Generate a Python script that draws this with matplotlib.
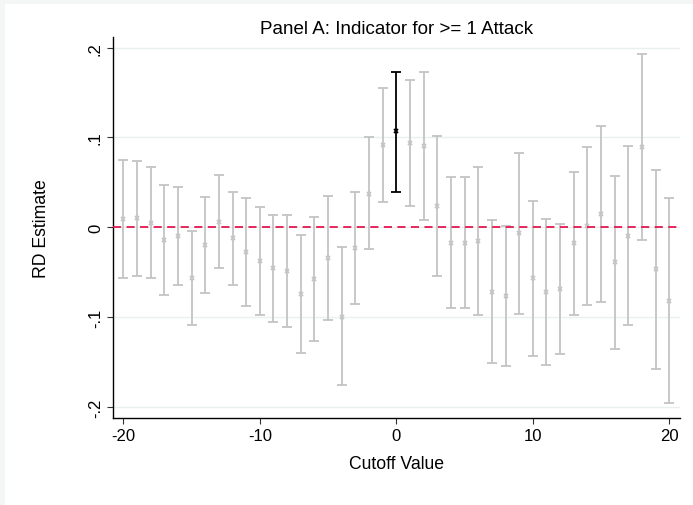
import matplotlib.pyplot as plt
from matplotlib.patches import Rectangle

plt.rcParams['font.family'] = ['Liberation Sans', 'DejaVu Sans']
plt.rcParams['axes.unicode_minus'] = False

cutoffs = list(range(-20, 21))
estimates = [0.0093, 0.0104, 0.0052, -0.0141, -0.0093, -0.0561, -0.0193, 0.0063, -0.0123, -0.0275,
             -0.0379, -0.0454, -0.0487, -0.0740, -0.0572, -0.0342, -0.0993, -0.0234, 0.0375, 0.0922,
             0.1067,
             0.0941, 0.0903, 0.0238, -0.0171, -0.0171, -0.0152, -0.0717, -0.0762, -0.0067, -0.0569,
             -0.0725, -0.0684, -0.0178, 0.0019, 0.0149, -0.0390, -0.0093, 0.0892, -0.0468, -0.0818]
ci_high = [0.0755, 0.0743, 0.0673, 0.0468, 0.0454, -0.0037, 0.0342, 0.0580, 0.0398, 0.0327,
           0.0223, 0.0141, 0.0141, -0.0082, 0.0115, 0.0353, -0.0223, 0.0390, 0.1004, 0.1554,
           0.1729,
           0.1643, 0.1729, 0.1019, 0.0558, 0.0565, 0.0669, 0.0078, 0.0019, 0.0833, 0.0297,
           0.0089, 0.0041, 0.0617, 0.0896, 0.1123, 0.0576, 0.0903, 0.1929, 0.0636, 0.0323]
ci_low = [-0.0565, -0.0543, -0.0561, -0.0751, -0.0639, -0.1086, -0.0729, -0.0454, -0.0643, -0.0877,
          -0.0981, -0.1048, -0.1112, -0.1401, -0.1264, -0.1030, -0.1758, -0.0855, -0.0245, 0.0286,
          0.0398,
          0.0242, 0.0078, -0.0543, -0.0900, -0.0900, -0.0974, -0.1513, -0.1543, -0.0967, -0.1435,
          -0.1535, -0.1413, -0.0974, -0.0862, -0.0829, -0.1357, -0.1089, -0.0145, -0.1576, -0.1955]

y_ticks = [-0.2, -0.1, 0, 0.1, 0.2]
y_tick_labels = ['-.2', '-.1', '0', '.1', '.2']
x_ticks = [-20, -10, 0, 10, 20]

fig = plt.figure(figsize=(6.93, 5.06), dpi=100)
fig.patch.set_facecolor('white')
# thin grey frame on the left and top edge, as in the exported Stata graph
fig.patches.append(Rectangle((0, 0), 4.5 / 693, 1, transform=fig.transFigure,
                             facecolor='#f4f5f5', edgecolor='none', zorder=-10))
fig.patches.append(Rectangle((0, 1 - 4.5 / 506), 1, 4.5 / 506, transform=fig.transFigure,
                             facecolor='#f4f5f5', edgecolor='none', zorder=-10))
ax = fig.add_axes([0.1626, 0.1719, 0.8186, 0.7531])
ax.set_facecolor('white')

for x, est, lo, hi in zip(cutoffs, estimates, ci_low, ci_high):
    col = 'black' if x == 0 else '#c4c4c4'
    ax.errorbar(x, est, yerr=[[est - lo], [hi - est]], fmt='x', color=col, ecolor=col,
                elinewidth=1.3, capsize=3.5, capthick=1.3, markersize=3.5, markeredgewidth=1.3,
                zorder=3 if x == 0 else 2)

ax.axhline(0, color='#e3174f', linestyle=(0, (4.5, 3)), linewidth=1.3, zorder=4)

ax.set_xlim(-20.78, 20.78)
ax.set_ylim(-0.2122, 0.2119)
ax.set_yticks(y_ticks)
ax.set_yticklabels(y_tick_labels, rotation=90, va='center')
ax.set_xticks(x_ticks)
ax.grid(axis='y', color='#e8f0f2', linewidth=1.0, zorder=0)
ax.set_axisbelow(True)

for side in ['top', 'right']:
    ax.spines[side].set_visible(False)
for side in ['left', 'bottom']:
    ax.spines[side].set_linewidth(1.0)
    ax.spines[side].set_color('black')
ax.tick_params(axis='both', labelsize=12, length=4, width=0.8, color='#333333', pad=3)

ax.set_title('Panel A: Indicator for >= 1 Attack', fontsize=13.5, pad=3)
ax.set_xlabel('Cutoff Value', fontsize=12.7, labelpad=9)
ax.set_ylabel('RD Estimate', fontsize=12.7, labelpad=27)

fig.savefig('out.png', dpi=100)
